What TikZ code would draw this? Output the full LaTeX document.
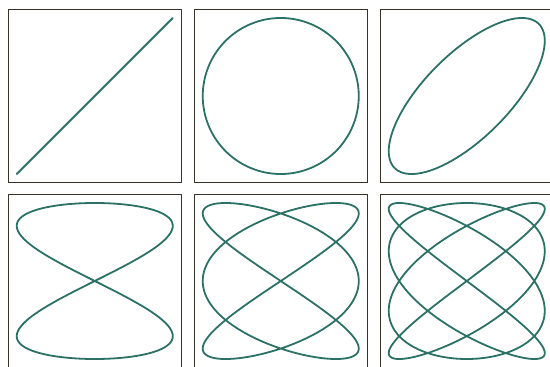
\documentclass[tikz,border=0pt]{standalone}
\definecolor{curvec}{HTML}{2B7166}
\definecolor{framec}{HTML}{36322A}
\begin{document}
\begin{tikzpicture}[x=1pt,y=-1pt,
  frame/.style={draw=framec,line width=0.9pt},
  curve/.style={draw=curvec,line width=1.8pt,line join=round,line cap=round}]
\useasboundingbox (0,0) rectangle (550,367);
\foreach \i/\j/\a/\b/\d in {0/0/1/1/0, 1/0/1/1/90, 2/0/1/1/45, 0/1/2/1/0, 1/1/3/2/0, 2/1/4/3/0} {
  \pgfmathsetmacro\xo{8+186*\i}
  \pgfmathsetmacro\yo{9.3+185*\j}
  \draw[frame] (\xo,\yo) rectangle ++(173.5,173.4);
  \draw[curve] plot[domain=0:360,samples=721,variable=\t] ({\xo+86.75+78*sin(\a*\t)}, {\yo+86.7-78*sin(\b*\t+\d)});
}
\end{tikzpicture}
\end{document}
